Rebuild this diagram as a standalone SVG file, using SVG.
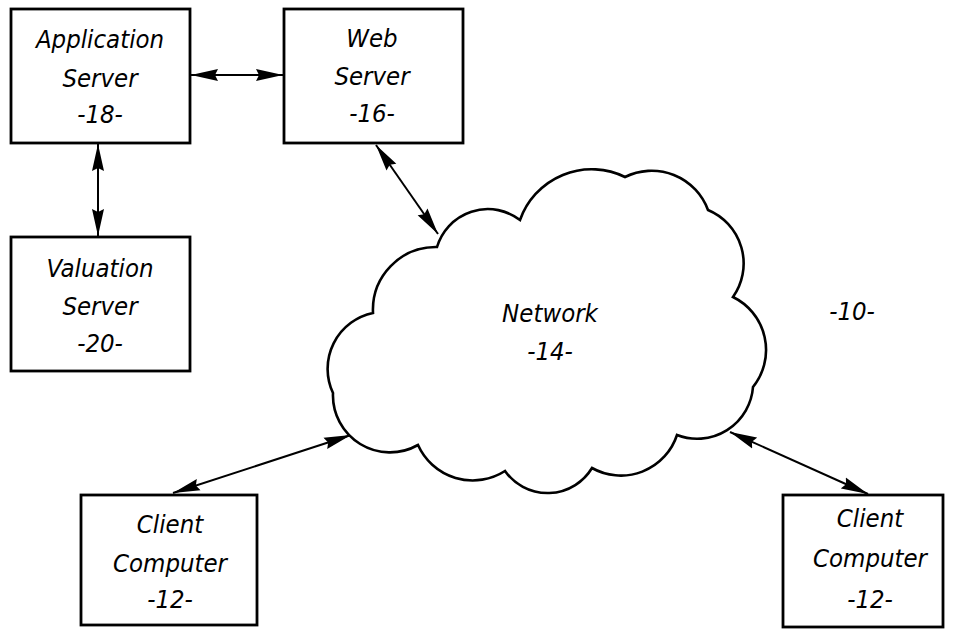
<svg xmlns="http://www.w3.org/2000/svg" width="953" height="629" viewBox="0 0 953 629">
<style>
.box{fill:#fff;stroke:#000;stroke-width:2.8}
.cloud{fill:#fff;stroke:#000;stroke-width:2.6;stroke-linejoin:miter}
.lbl{font-family:"DejaVu Sans Condensed","DejaVu Sans",sans-serif;font-style:italic;font-size:25.5px;fill:#000;text-anchor:middle}
.conn{stroke:#000;stroke-width:2;fill:none;marker-start:url(#ah);marker-end:url(#ah)}
</style>
<defs>
<marker id="ah" markerUnits="userSpaceOnUse" markerWidth="28" markerHeight="14" refX="27" refY="7" orient="auto-start-reverse" viewBox="0 0 28 14">
<path d="M0,1 L27,7 L0,13 L3,7 z" fill="#000"/>
</marker>
</defs>
<rect width="953" height="629" fill="#fff"/>
<g id="connectors">
<line class="conn" x1="191" y1="75" x2="283" y2="75"/>
<line class="conn" x1="98" y1="144" x2="98" y2="236"/>
<line class="conn" x1="376" y1="145" x2="438" y2="234"/>
<line class="conn" x1="173" y1="493" x2="351" y2="435"/>
<line class="conn" x1="730" y1="432" x2="868" y2="494"/>
</g>
<g id="network">
<path class="cloud" d="M437,247 A53,53 0 0 1 520,220 A76,76 0 0 1 625,177 A60,60 0 0 1 708,210 A58,58 0 0 1 733,297 A59,59 0 0 1 753,387 A56,56 0 0 1 677,435 A59,59 0 0 1 592,468 A52,52 0 0 1 505,471 A60,60 0 0 1 418,445 A57,57 0 0 1 333,393 A57,57 0 0 1 373,313 A63,63 0 0 1 437,247 z"/>
<text class="lbl" x="550" y="322">Network</text>
<text class="lbl" x="550" y="360">-14-</text>
</g>
<g id="app-server">
<rect class="box" x="11" y="9" width="179" height="134"/>
<text class="lbl" x="100" y="48">Application</text>
<text class="lbl" x="100" y="87">Server</text>
<text class="lbl" x="100" y="123">-18-</text>
</g>
<g id="web-server">
<rect class="box" x="284" y="9" width="179" height="134"/>
<text class="lbl" x="372" y="47">Web</text>
<text class="lbl" x="372" y="85">Server</text>
<text class="lbl" x="372" y="122">-16-</text>
</g>
<g id="valuation-server">
<rect class="box" x="11" y="237" width="179" height="134"/>
<text class="lbl" x="100" y="277">Valuation</text>
<text class="lbl" x="100" y="315">Server</text>
<text class="lbl" x="100" y="352">-20-</text>
</g>
<g id="client-left">
<rect class="box" x="81" y="495" width="176" height="130"/>
<text class="lbl" x="170" y="533">Client</text>
<text class="lbl" x="170" y="572">Computer</text>
<text class="lbl" x="170" y="608">-12-</text>
</g>
<g id="client-right">
<rect class="box" x="783" y="495" width="160" height="132"/>
<text class="lbl" x="870" y="527">Client</text>
<text class="lbl" x="870" y="567">Computer</text>
<text class="lbl" x="870" y="608">-12-</text>
</g>
<g id="system-label">
<text class="lbl" x="852" y="320">-10-</text>
</g>
</svg>
